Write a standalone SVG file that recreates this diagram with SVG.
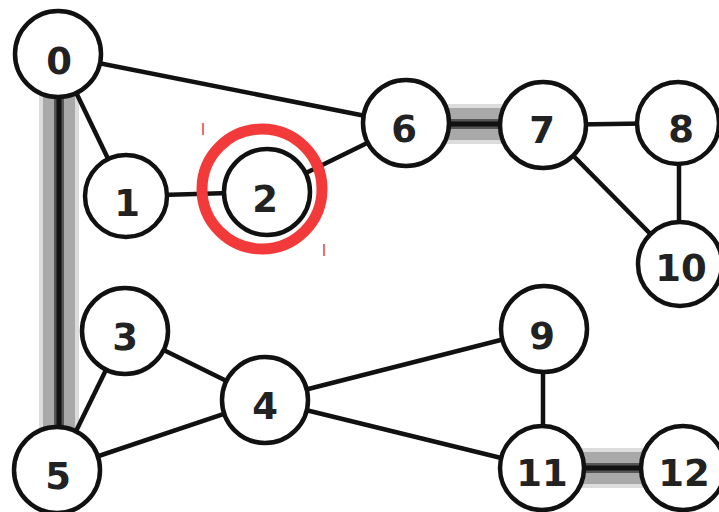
<svg xmlns="http://www.w3.org/2000/svg" width="719" height="512" viewBox="0 0 719 512">
<defs>
<style>
.edge{stroke:#111;stroke-width:4.5;fill:none}
.b1{stroke:#dcdcdc;stroke-width:40;fill:none}
.b2{stroke:#a9a9a9;stroke-width:32;fill:none}
.b3{stroke:#555;stroke-width:10;fill:none}
.b4{stroke:#111;stroke-width:5;fill:none}
.node circle{fill:#fff;stroke:#111;stroke-width:4.5}
.node text{font-family:"DejaVu Sans",Verdana,sans-serif;font-weight:bold;font-size:37px;fill:#222;text-anchor:middle}
.hl{fill:none;stroke:#f23a3a;stroke-width:11}
.tick{stroke:#f23a3a;stroke-width:1.5}
</style>
</defs>
<rect width="719" height="512" fill="#fff"/>
<g id="connectors">
<g id="band-0-5"><line class="b1" x1="59" y1="60" x2="59" y2="465"/><line class="b2" x1="59" y1="60" x2="59" y2="465"/><line class="b3" x1="59" y1="60" x2="59" y2="465"/><line class="b4" x1="59" y1="60" x2="59" y2="465"/></g>
<g id="band-6-7"><line class="b1" x1="406" y1="124" x2="543" y2="124"/><line class="b2" x1="406" y1="124" x2="543" y2="124"/><line class="b3" x1="406" y1="124" x2="543" y2="124"/><line class="b4" x1="406" y1="124" x2="543" y2="124"/></g>
<g id="band-11-12"><line class="b1" x1="542" y1="468" x2="683" y2="468"/><line class="b2" x1="542" y1="468" x2="683" y2="468"/><line class="b3" x1="542" y1="468" x2="683" y2="468"/><line class="b4" x1="542" y1="468" x2="683" y2="468"/></g>
<line class="edge" x1="58" y1="55" x2="406" y2="124"/>
<line class="edge" x1="58" y1="55" x2="126" y2="196"/>
<line class="edge" x1="126" y1="196" x2="267" y2="192"/>
<line class="edge" x1="267" y1="192" x2="406" y2="124"/>
<line class="edge" x1="543" y1="125" x2="678" y2="123"/>
<line class="edge" x1="543" y1="125" x2="680" y2="264"/>
<line class="edge" x1="679" y1="123" x2="679" y2="264"/>
<line class="edge" x1="125" y1="331" x2="57" y2="470"/>
<line class="edge" x1="125" y1="331" x2="265" y2="400"/>
<line class="edge" x1="265" y1="400" x2="57" y2="470"/>
<line class="edge" x1="265" y1="400" x2="544" y2="329"/>
<line class="edge" x1="265" y1="400" x2="542" y2="468"/>
<line class="edge" x1="543" y1="329" x2="543" y2="468"/>
</g>
<g id="n0" class="node"><circle cx="58" cy="54" r="43"/><text x="59" y="74">0</text></g>
<g id="n1" class="node"><circle cx="126" cy="196" r="41"/><text x="127" y="216">1</text></g>
<g id="n2" class="node"><circle cx="267" cy="192" r="43"/><text x="265" y="212">2</text></g>
<g id="n3" class="node"><circle cx="125" cy="331" r="43"/><text x="125" y="350">3</text></g>
<g id="n4" class="node"><circle cx="265" cy="400" r="43"/><text x="265" y="419">4</text></g>
<g id="n5" class="node"><circle cx="57" cy="470" r="43"/><text x="58" y="489">5</text></g>
<g id="n6" class="node"><circle cx="406" cy="123" r="43"/><text x="404" y="142">6</text></g>
<g id="n7" class="node"><circle cx="543" cy="125" r="43"/><text x="542" y="143">7</text></g>
<g id="n8" class="node"><circle cx="678" cy="123" r="41"/><text x="681" y="142">8</text></g>
<g id="n9" class="node"><circle cx="544" cy="329" r="43"/><text x="542" y="349">9</text></g>
<g id="n10" class="node"><circle cx="680" cy="264" r="42"/><text x="681" y="281">10</text></g>
<g id="n11" class="node"><circle cx="542" cy="468" r="42"/><text x="542" y="486">11</text></g>
<g id="n12" class="node"><circle cx="683" cy="468" r="42"/><text x="684" y="486">12</text></g>
<g id="highlight">
<circle class="hl" cx="262" cy="189" r="60"/>
<line class="tick" x1="203" y1="123" x2="203" y2="135"/>
<line class="tick" x1="324" y1="244" x2="324" y2="256"/>
</g>
</svg>
